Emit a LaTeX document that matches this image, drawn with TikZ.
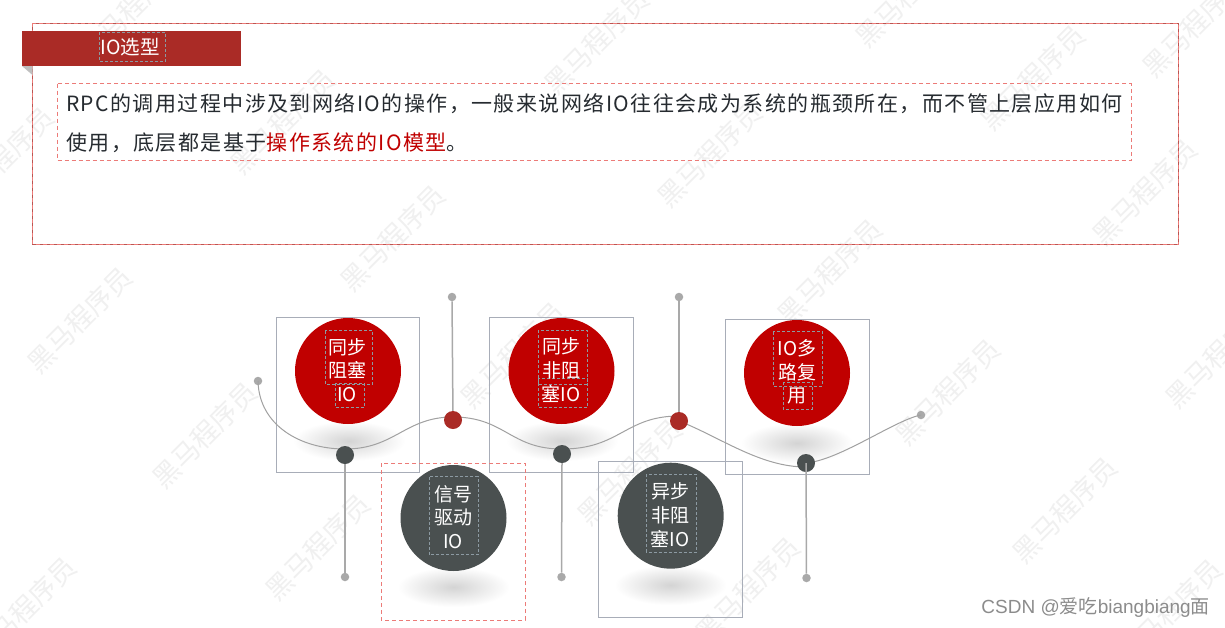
\documentclass[tikz,border=0pt]{standalone}
\usepackage{fontspec}
\setmainfont{Noto Sans CJK SC}
\newfontfamily\csdnfont{Liberation Sans}
\newfontfamily\bodyfont[LetterSpace=6.8]{Noto Sans CJK SC}
\definecolor{bannerred}{HTML}{AA2B26}
\definecolor{circred}{HTML}{C00000}
\definecolor{circdark}{HTML}{4A5050}
\definecolor{bodyink}{HTML}{262B30}
\definecolor{boxgray}{HTML}{A8ADB8}
\definecolor{dashred}{HTML}{EC7B78}
\definecolor{dashgray}{HTML}{8C9AA2}
\definecolor{linegray}{HTML}{A9A9A9}
\definecolor{markgray}{HTML}{F0F0F0}
\tikzset{
  x=1pt,y=-1pt,
  wmark/.style={text=markgray,font=\fontsize{27}{27}\selectfont,rotate=45,inner sep=0pt},
  logomark/.style={draw=markgray,line width=1.6pt,rotate=45},
  graybox/.style={draw=boxgray,line width=1pt},
  reddash/.style={draw=dashred,line width=1pt,dash pattern=on 4pt off 3pt},
  txtdash/.style={draw=dashgray,line width=0.8pt,dash pattern=on 3pt off 2pt},
  bigcirc/.style={circle,minimum size=106pt,inner sep=0pt,draw=none},
  lab/.style={text=white,font=\fontsize{19}{23.6}\selectfont,align=center,inner sep=0pt},
  bodytxt/.style={text=bodyink,font=\bodyfont\fontsize{21}{21}\selectfont,inner sep=0pt,anchor=base west},
  endDot/.style={circle,fill=linegray,minimum size=8.5pt,inner sep=0pt},
  hubDark/.style={circle,fill=circdark,minimum size=18pt,inner sep=0pt},
  hubRed/.style={circle,fill=bannerred,minimum size=18pt,inner sep=0pt},
  stem/.style={draw=linegray,line width=1.5pt},
  wave/.style={draw=linegray!95!black,line width=1pt},
  shadowblob/.style={inner color=black!17,outer color=white,draw=none}
}
\begin{document}
\begin{tikzpicture}
\useasboundingbox (0,0) rectangle (1225,627);
\fill[white] (0,0) rectangle (1225,627);
% watermarks
\foreach \wx/\wy in {80/320,205/435,318/547,24/610,283/122,132/8,393/238,513/355,630/472,748/590,597/42,710/155,830/272,948/392,1065/510,1033/78,1145/192,1218/355,2/160,908/-5,1170/612,1195/25}
  \node[wmark] at (\wx,\wy) {黑马程序员};
\foreach \lx/\ly in {465/190,510/127,603/217,561/63,660/165,755/258,698/305,647/367,593/423,500/323}
  \draw[logomark] (\lx,\ly) ellipse [x radius=9pt,y radius=5pt];
% outer frame
\draw[draw=bannerred!80!white,line width=1pt] (32.5,23) rectangle (1178,244);
\draw[reddash] (32.5,23) rectangle (1178,244);
\fill[black!25] (22,66) -- (32.5,66) -- (32.5,75) -- cycle;
\fill[bannerred] (22,31) rectangle (241,66);
\draw[txtdash] (99,32) rectangle (165.5,61);
\node[lab,font=\fontsize{19.5}{20}\selectfont] (title) at (130,47) {IO选型};
% body text
\draw[reddash] (57,83.5) rectangle (1131,160);
\node[bodytxt] (line1) at (66,111.5) {RPC的调用过程中涉及到网络IO的操作，一般来说网络IO往往会成为系统的瓶颈所在，而不管上层应用如何};
\node[bodytxt] (line2) at (66,150.5) {使用，底层都是基于\textcolor{circred}{操作系统的IO模型}。};
% boxes
\draw[graybox] (276,317) rectangle (419.5,472.5);
\draw[graybox] (489.5,317) rectangle (633,472.5);
\draw[graybox] (725.3,319) rectangle (869,474);
\draw[graybox] (598.7,461) rectangle (742,617);
\draw[reddash] (381,463) rectangle (525,620);
% shadows
\shade[shadowblob] (349,441) ellipse [x radius=56pt,y radius=20pt];
\shade[shadowblob] (562,441) ellipse [x radius=56pt,y radius=20pt];
\shade[shadowblob] (797,443) ellipse [x radius=56pt,y radius=20pt];
\shade[shadowblob] (453.5,587) ellipse [x radius=56pt,y radius=20pt];
\shade[shadowblob] (670.5,585) ellipse [x radius=56pt,y radius=20pt];
% circles
\node[bigcirc,fill=circred] (c1) at (348,371) {};
\node[bigcirc,fill=circred] (c2) at (561.5,371) {};
\node[bigcirc,fill=circred] (c3) at (797,373) {};
\node[bigcirc,fill=circdark] (c4) at (453.5,518) {};
\node[bigcirc,fill=circdark] (c5) at (670.7,515.7) {};
% text dashes
\draw[txtdash] (325.3,330.7) rectangle (372.7,384);
\draw[txtdash] (335,383) rectangle (364,407.5);
\draw[txtdash] (538,330) rectangle (587,384);
\draw[txtdash] (538,378) rectangle (587,407.5);
\draw[txtdash] (773.3,331.7) rectangle (822.3,386);
\draw[txtdash] (783,382) rectangle (812,409);
\draw[txtdash] (429.3,476.7) rectangle (478.3,554.7);
\draw[txtdash] (646.3,474.3) rectangle (696.3,552);
\node[lab] (t1) at (347,370) {同步\\阻塞\\IO};
\node[lab] (t2) at (561,370) {同步\\非阻\\塞IO};
\node[lab] (t3) at (797,372) {IO多\\路复\\用};
\node[lab] (t4) at (453,517) {信号\\驱动\\IO};
\node[lab] (t5) at (670,515) {异步\\非阻\\塞IO};
% dots
\node[endDot] (topA) at (452,297) {};
\node[endDot] (topB) at (679,297) {};
\node[endDot] (left) at (258,381) {};
\node[endDot] (botA) at (345,577) {};
\node[endDot] (botB) at (561.5,577) {};
\node[endDot] (botC) at (806.5,578) {};
\node[endDot] (right) at (921,415) {};
\coordinate (w1) at (345,449);
\coordinate (w2) at (453,417);
\coordinate (w3) at (562,449);
\coordinate (w4) at (679,416);
\coordinate (w5) at (806,467);
% wave and stems
\draw[wave] (left.center) .. controls (259,425) and (300,449) .. (w1)
  .. controls (395,449) and (405,417) .. (w2)
  .. controls (505,417) and (510,449) .. (w3)
  .. controls (620,449) and (625,416) .. (w4);
\coordinate (w4b) at (679,421);
\coordinate (w5b) at (806,463);
\draw[wave] (w4b) .. controls (720,437) and (760,467) .. (w5);
\draw[wave] (w5b) .. controls (840,460) and (895,420) .. (right.center);
\node[hubRed] (r1) at (453,420) {};
\node[hubRed] (r2) at (679,421) {};
\node[hubDark] (d1) at (345,455) {};
\node[hubDark] (d2) at (562,454) {};
\node[hubDark] (d3) at (806,463) {};
\draw[stem] (topA) -- (r1);
\draw[stem] (topB) -- (r2);
\draw[stem] (d1.south) -- (botA);
\draw[stem] (d2.south) -- (botB);
\draw[stem] (d3.center) -- (botC);
\node[text=black!45,inner sep=0pt,font=\csdnfont\fontsize{19}{19}\selectfont,anchor=east] (csdn) at (1210,607) {CSDN @{\rmfamily 爱吃}biangbiang{\rmfamily 面}};
\end{tikzpicture}
\end{document}
